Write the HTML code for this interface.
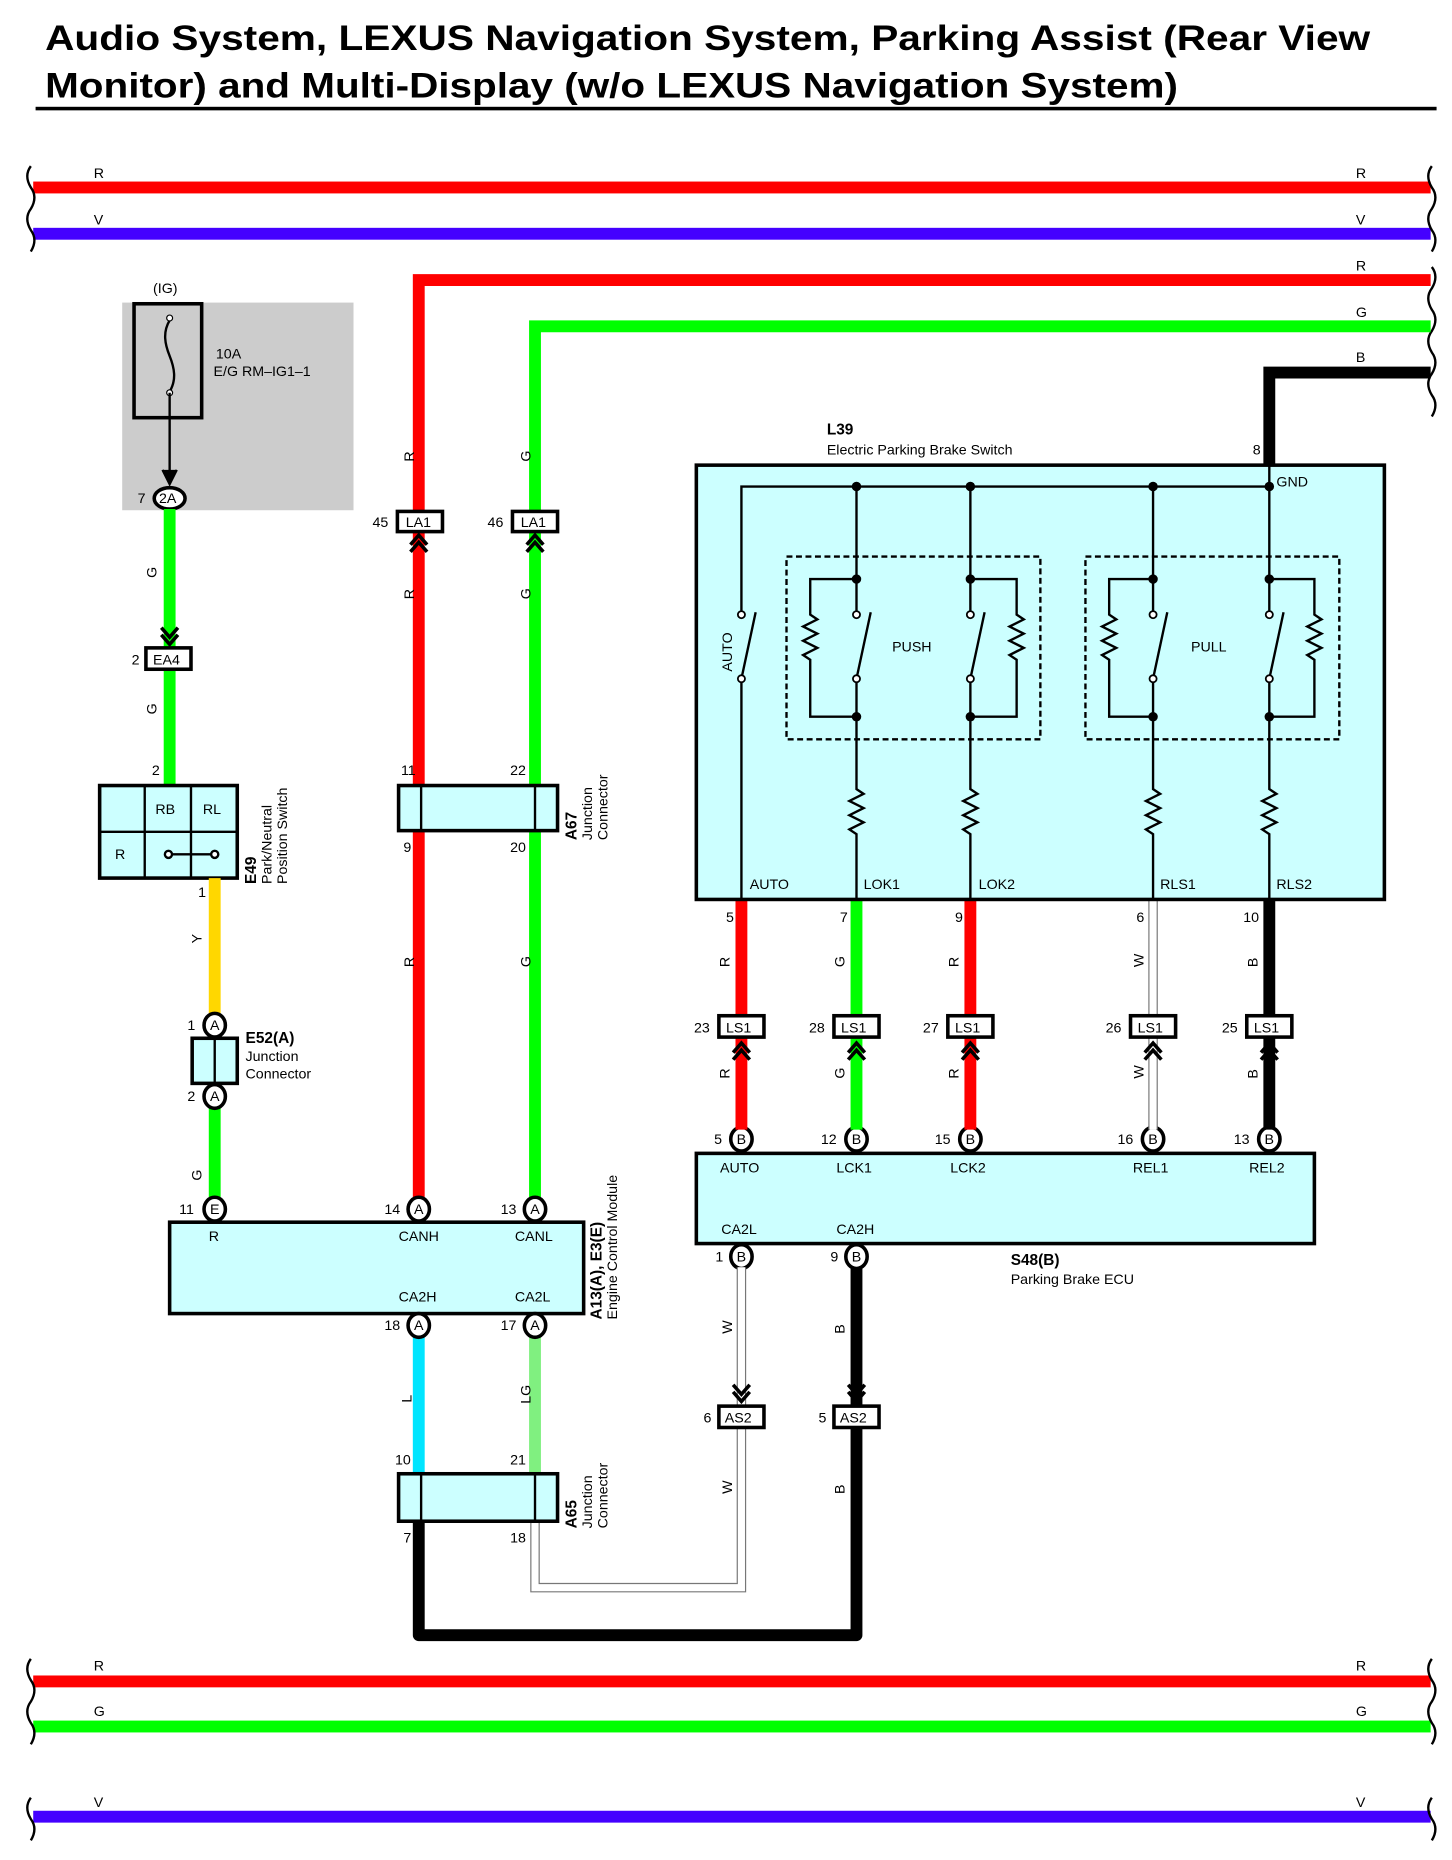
<!DOCTYPE html>
<html><head><meta charset="utf-8"><style>
html,body{margin:0;padding:0;background:#fff}
svg{display:block}
text{font-family:"Liberation Sans",sans-serif;font-size:12px;fill:#000}
.t{font-size:30px;font-weight:bold}
.b{font-weight:bold;font-size:13px}
</style></head><body>
<svg width="1452" height="1860" viewBox="0 0 1224 1567.5" preserveAspectRatio="none" xmlns="http://www.w3.org/2000/svg">
<defs>
<g id="cu"><path d="M-7,10 L0,2 L7,10 M-7,16 L0,8 L7,16" fill="none" stroke="#000" stroke-width="3"/></g>
<g id="cd"><path d="M-7,-10 L0,-2 L7,-10 M-7,-16 L0,-8 L7,-16" fill="none" stroke="#000" stroke-width="3"/></g>
<g id="br"><path d="M0,0 q-6,8 0,18 q6,8 0,18 q-6,8 0,18 q6,8 0,18" fill="none" stroke="#000" stroke-width="2"/></g>
</defs>
<!-- Title -->
<text class="t" x="38" y="42" textLength="1117" lengthAdjust="spacingAndGlyphs">Audio System, LEXUS Navigation System, Parking Assist (Rear View</text>
<text class="t" x="38" y="82" textLength="955" lengthAdjust="spacingAndGlyphs">Monitor) and Multi-Display (w/o LEXUS Navigation System)</text>
<rect x="30" y="90" width="1181" height="3" fill="#000"/>

<!-- top buses -->
<rect x="28" y="153" width="1178" height="10" fill="#f00"/>
<rect x="28" y="192" width="1178" height="10" fill="#40f"/>
<use href="#br" x="26" y="140"/><use href="#br" x="1207" y="140"/>
<text x="79" y="150">R</text><text x="1143" y="150">R</text>
<text x="79" y="189">V</text><text x="1143" y="189">V</text>
<text x="1143" y="228">R</text><text x="1143" y="267">G</text><text x="1143" y="305">B</text>
<path d="M1207,225 q6,8 0,18 q-6,8 0,18 q6,8 0,18 q-6,8 0,18 q6,8 0,18 q-6,8 0,18 q6,8 0,18" fill="none" stroke="#000" stroke-width="2"/>

<!-- long wires -->
<path d="M1206,236 H353 V1012" fill="none" stroke="#f00" stroke-width="10"/>
<path d="M1206,275 H451 V1012" fill="none" stroke="#0f0" stroke-width="10"/>
<path d="M1206,314 H1070 V392" fill="none" stroke="#000" stroke-width="10"/>
<rect x="336" y="662" width="134" height="38" fill="#ccffff" stroke="#000" stroke-width="3"/>
<line x1="355" y1="662" x2="355" y2="700" stroke="#000" stroke-width="2"/>
<line x1="451" y1="662" x2="451" y2="700" stroke="#000" stroke-width="2"/>
<text x="338" y="653">11</text><text x="430" y="653">22</text>
<text x="340" y="718">9</text><text x="430" y="718">20</text>
<g transform="translate(486,708) rotate(-90)"><text class="b">A67</text><text x="0" y="13">Junction</text><text x="0" y="26">Connector</text></g>
<text x="348" y="396" transform="rotate(-90 345 392)">R</text>
<text x="348" y="512" transform="rotate(-90 345 508)">R</text>
<text x="348" y="822" transform="rotate(-90 345 818)">R</text>
<text x="446" y="396" transform="rotate(-90 443 392)">G</text>
<text x="446" y="512" transform="rotate(-90 443 508)">G</text>
<text x="446" y="822" transform="rotate(-90 443 818)">G</text>
<rect x="335" y="431" width="38" height="17" fill="#fff" stroke="#000" stroke-width="3"/><text x="342" y="444">LA1</text><text x="314" y="444">45</text>
<rect x="432" y="431" width="38" height="17" fill="#fff" stroke="#000" stroke-width="3"/><text x="439" y="444">LA1</text><text x="411" y="444">46</text>
<use href="#cu" x="353" y="449"/><use href="#cu" x="451" y="449"/>

<!-- fuse -->
<rect x="103" y="255" width="195" height="175" fill="#ccc"/>
<rect x="113" y="256" width="57" height="96" fill="none" stroke="#000" stroke-width="3"/>
<path d="M143,270 c-6,10 -4,20 0,30 c4,10 6,20 0,30" fill="none" stroke="#000" stroke-width="2"/>
<circle cx="143" cy="268" r="2.5" fill="#fff" stroke="#000"/><circle cx="143" cy="331" r="2.5" fill="#fff" stroke="#000"/>
<line x1="143" y1="331" x2="143" y2="404" stroke="#000" stroke-width="2"/>
<path d="M137,396 L143,408 L149,396" fill="#000" stroke="#000" stroke-width="2"/>
<text x="129" y="247">(IG)</text>
<text x="182" y="302">10A</text><text x="180" y="317">E/G RM–IG1–1</text>
<ellipse cx="143" cy="420" rx="13" ry="9" fill="#fff" stroke="#000" stroke-width="3"/><text x="134" y="424" font-size="11">2A</text><text x="116" y="424">7</text>
<line x1="143" y1="429" x2="143" y2="662" stroke="#0f0" stroke-width="10"/>
<use href="#cd" x="143" y="545"/>
<rect x="123" y="546" width="38" height="18" fill="#fff" stroke="#000" stroke-width="3"/><text x="129" y="560">EA4</text><text x="111" y="560">2</text>
<text x="131" y="494" transform="rotate(-90 128 490)">G</text>
<text x="131" y="609" transform="rotate(-90 128 605)">G</text>
<text x="128" y="653">2</text>
<!-- E49 -->
<rect x="84" y="662" width="116" height="78" fill="#ccffff" stroke="#000" stroke-width="3"/>
<line x1="122" y1="662" x2="122" y2="740" stroke="#000" stroke-width="2"/>
<line x1="161" y1="662" x2="161" y2="740" stroke="#000" stroke-width="2"/>
<line x1="84" y1="701" x2="200" y2="701" stroke="#000" stroke-width="2"/>
<text x="131" y="686">RB</text><text x="171" y="686">RL</text><text x="97" y="724">R</text>
<line x1="142" y1="720" x2="181" y2="720" stroke="#000" stroke-width="2"/>
<circle cx="142" cy="720" r="3" fill="#fff" stroke="#000" stroke-width="2"/><circle cx="181" cy="720" r="3" fill="#fff" stroke="#000" stroke-width="2"/>
<g transform="translate(216,745) rotate(-90)"><text class="b">E49</text><text x="0" y="13">Park/Neutral</text><text x="0" y="26">Position Switch</text></g>
<line x1="181" y1="740" x2="181" y2="856" stroke="#ffd700" stroke-width="10"/>
<text x="167" y="756">1</text>
<text x="169" y="802" transform="rotate(-90 166 798)">Y</text>
<!-- E52 -->
<rect x="162" y="875" width="38" height="38" fill="#ccffff" stroke="#000" stroke-width="3"/>
<line x1="181" y1="875" x2="181" y2="913" stroke="#000" stroke-width="2"/>
<line x1="181" y1="932" x2="181" y2="1010" stroke="#0f0" stroke-width="10"/>
<text x="207" y="879" class="b">E52(A)</text><text x="207" y="894">Junction</text><text x="207" y="909">Connector</text>
<text x="169" y="1002" transform="rotate(-90 166 998)">G</text>

<!-- ECM -->
<rect x="143" y="1030" width="349" height="77" fill="#ccffff" stroke="#000" stroke-width="3"/>
<text x="176" y="1046">R</text><text x="336" y="1046">CANH</text><text x="434" y="1046">CANL</text>
<text x="336" y="1097">CA2H</text><text x="434" y="1097">CA2L</text>
<g transform="translate(507,1112) rotate(-90)"><text class="b">A13(A), E3(E)</text><text x="0" y="13">Engine Control Module</text></g>
<line x1="353" y1="1125" x2="353" y2="1242" stroke="#00e5ff" stroke-width="10"/>
<line x1="451" y1="1125" x2="451" y2="1242" stroke="#80f080" stroke-width="10"/>
<text x="345" y="1190" transform="rotate(-90 342 1185)">L</text>
<text x="442" y="1192" transform="rotate(-90 440 1185)">LG</text>
<!-- A65 -->
<path d="M353,1282 V1378 H722 V1200" fill="none" stroke="#000" stroke-width="10" stroke-linejoin="round"/>
<path d="M451,1282 V1338 H625 V1200" fill="none" stroke="#777" stroke-width="8"/>
<path d="M451,1282 V1338 H625 V1200" fill="none" stroke="#fff" stroke-width="6"/>
<rect x="336" y="1242" width="134" height="40" fill="#ccffff" stroke="#000" stroke-width="3"/>
<line x1="355" y1="1242" x2="355" y2="1282" stroke="#000" stroke-width="2"/>
<line x1="451" y1="1242" x2="451" y2="1282" stroke="#000" stroke-width="2"/>
<text x="333" y="1234">10</text><text x="430" y="1234">21</text>
<text x="340" y="1300">7</text><text x="430" y="1300">18</text>
<g transform="translate(486,1288) rotate(-90)"><text class="b">A65</text><text x="0" y="13">Junction</text><text x="0" y="26">Connector</text></g>

<!-- pins -->
<g fill="#fff" stroke="#000" stroke-width="3">
<ellipse cx="181" cy="864" rx="9" ry="10"/><ellipse cx="181" cy="924" rx="9" ry="10"/>
<ellipse cx="181" cy="1019" rx="9" ry="10"/><ellipse cx="353" cy="1019" rx="9" ry="10"/><ellipse cx="451" cy="1019" rx="9" ry="10"/>
<ellipse cx="353" cy="1117" rx="9" ry="10"/><ellipse cx="451" cy="1117" rx="9" ry="10"/>
<ellipse cx="625" cy="960" rx="9" ry="10"/><ellipse cx="722" cy="960" rx="9" ry="10"/><ellipse cx="818" cy="960" rx="9" ry="10"/><ellipse cx="972" cy="960" rx="9" ry="10"/><ellipse cx="1070" cy="960" rx="9" ry="10"/>
<ellipse cx="625" cy="1059" rx="9" ry="10"/><ellipse cx="722" cy="1059" rx="9" ry="10"/>
</g>
<g font-size="11">
<text x="177" y="868">A</text><text x="177" y="928">A</text><text x="177" y="1023">E</text><text x="349" y="1023">A</text><text x="447" y="1023">A</text><text x="349" y="1121">A</text><text x="447" y="1121">A</text>
<text x="621" y="964">B</text><text x="718" y="964">B</text><text x="814" y="964">B</text><text x="968" y="964">B</text><text x="1066" y="964">B</text>
<text x="621" y="1063">B</text><text x="718" y="1063">B</text>
</g>
<text x="158" y="868">1</text><text x="158" y="928">2</text><text x="151" y="1023">11</text><text x="324" y="1023">14</text><text x="422" y="1023">13</text><text x="324" y="1121">18</text><text x="422" y="1121">17</text>
<text x="602" y="964">5</text><text x="692" y="964">12</text><text x="788" y="964">15</text><text x="942" y="964">16</text><text x="1040" y="964">13</text>
<text x="603" y="1063">1</text><text x="700" y="1063">9</text>

<!-- L39 to ECU wires -->
<line x1="625" y1="758" x2="625" y2="952" stroke="#f00" stroke-width="10"/>
<line x1="722" y1="758" x2="722" y2="952" stroke="#0f0" stroke-width="10"/>
<line x1="818" y1="758" x2="818" y2="952" stroke="#f00" stroke-width="10"/>
<line x1="972" y1="758" x2="972" y2="952" stroke="#777" stroke-width="8"/>
<line x1="972" y1="758" x2="972" y2="952" stroke="#fff" stroke-width="6"/>
<line x1="1070" y1="758" x2="1070" y2="952" stroke="#000" stroke-width="10"/>
<line x1="625" y1="1068" x2="625" y2="1190" stroke="#777" stroke-width="8"/>
<line x1="625" y1="1068" x2="625" y2="1200" stroke="#fff" stroke-width="6"/>
<line x1="722" y1="1068" x2="722" y2="1190" stroke="#000" stroke-width="10"/>
<g fill="#fff" stroke="#000" stroke-width="3">
<rect x="606" y="856" width="38" height="18"/><rect x="703" y="856" width="38" height="18"/><rect x="799" y="856" width="38" height="18"/><rect x="953" y="856" width="38" height="18"/><rect x="1051" y="856" width="38" height="18"/>
<rect x="606" y="1185" width="38" height="18"/><rect x="703" y="1185" width="38" height="18"/>
</g>
<text x="612" y="870">LS1</text><text x="709" y="870">LS1</text><text x="805" y="870">LS1</text><text x="959" y="870">LS1</text><text x="1057" y="870">LS1</text>
<text x="585" y="870">23</text><text x="682" y="870">28</text><text x="778" y="870">27</text><text x="932" y="870">26</text><text x="1030" y="870">25</text>
<text x="611" y="1199">AS2</text><text x="708" y="1199">AS2</text><text x="593" y="1199">6</text><text x="690" y="1199">5</text>
<use href="#cu" x="625" y="877"/><use href="#cu" x="722" y="877"/><use href="#cu" x="818" y="877"/><use href="#cu" x="972" y="877"/><use href="#cu" x="1070" y="877"/>
<use href="#cd" x="625" y="1183"/><use href="#cd" x="722" y="1183"/>
<text x="612" y="777">5</text><text x="708" y="777">7</text><text x="805" y="777">9</text><text x="958" y="777">6</text><text x="1048" y="777">10</text>
<g>
<text x="614" y="822" transform="rotate(-90 611 818)">R</text><text x="711" y="822" transform="rotate(-90 708 818)">G</text><text x="807" y="822" transform="rotate(-90 804 818)">R</text><text x="963" y="822" transform="rotate(-90 960 818)">W</text><text x="1059" y="822" transform="rotate(-90 1056 818)">B</text>
<text x="614" y="916" transform="rotate(-90 611 912)">R</text><text x="711" y="916" transform="rotate(-90 708 912)">G</text><text x="807" y="916" transform="rotate(-90 804 912)">R</text><text x="963" y="916" transform="rotate(-90 960 912)">W</text><text x="1059" y="916" transform="rotate(-90 1056 912)">B</text>
<text x="616" y="1131" transform="rotate(-90 613 1127)">W</text><text x="711" y="1131" transform="rotate(-90 708 1127)">B</text>
<text x="616" y="1266" transform="rotate(-90 613 1262)">W</text><text x="711" y="1266" transform="rotate(-90 708 1262)">B</text>
</g>

<!-- S48 -->
<rect x="587" y="972" width="521" height="76" fill="#ccffff" stroke="#000" stroke-width="3"/>
<text x="607" y="988">AUTO</text><text x="705" y="988">LCK1</text><text x="801" y="988">LCK2</text><text x="955" y="988">REL1</text><text x="1053" y="988">REL2</text>
<text x="608" y="1040">CA2L</text><text x="705" y="1040">CA2H</text>
<text x="852" y="1066" class="b">S48(B)</text><text x="852" y="1082">Parking Brake ECU</text>

<!-- L39 -->
<text x="697" y="366" class="b">L39</text><text x="697" y="383">Electric Parking Brake Switch</text>
<text x="1056" y="383">8</text>
<rect x="587" y="392" width="580" height="366" fill="#ccffff" stroke="#000" stroke-width="3"/>
<text x="1076" y="410">GND</text>
<g fill="none" stroke="#000" stroke-width="2">
<path d="M625,758 V572 M625,518 V410 H1070 V392"/>
<path d="M625,572 L637,516"/>
<rect x="663" y="469" width="214" height="154" stroke-dasharray="5,3"/>
<rect x="915" y="469" width="214" height="154" stroke-dasharray="5,3"/>
<path d="M722,410 V518 M722,572 V665 l6,4 -12,6 12,6 -12,6 12,6 -12,6 6,4 V758"/>
<path d="M722,572 L734,516"/>
<path d="M722,488 H683 V518 l6,4 -12,6 12,6 -12,6 12,6 -12,6 6,4 V604 H722"/>
<path d="M818,410 V518 M818,572 V665 l6,4 -12,6 12,6 -12,6 12,6 -12,6 6,4 V758"/>
<path d="M818,572 L830,516"/>
<path d="M818,488 H857 V518 l6,4 -12,6 12,6 -12,6 12,6 -12,6 6,4 V604 H818"/>
<path d="M972,410 V518 M972,572 V665 l6,4 -12,6 12,6 -12,6 12,6 -12,6 6,4 V758"/>
<path d="M972,572 L984,516"/>
<path d="M972,488 H935 V518 l6,4 -12,6 12,6 -12,6 12,6 -12,6 6,4 V604 H972"/>
<path d="M1070,410 V518 M1070,572 V665 l6,4 -12,6 12,6 -12,6 12,6 -12,6 6,4 V758"/>
<path d="M1070,572 L1082,516"/>
<path d="M1070,488 H1108 V518 l6,4 -12,6 12,6 -12,6 12,6 -12,6 6,4 V604 H1070"/>
</g>
<g fill="#000"><circle cx="722" cy="410" r="4"/><circle cx="818" cy="410" r="4"/><circle cx="972" cy="410" r="4"/><circle cx="1070" cy="410" r="4"/>
<circle cx="722" cy="488" r="4"/><circle cx="818" cy="488" r="4"/><circle cx="972" cy="488" r="4"/><circle cx="1070" cy="488" r="4"/>
<circle cx="722" cy="604" r="4"/><circle cx="818" cy="604" r="4"/><circle cx="972" cy="604" r="4"/><circle cx="1070" cy="604" r="4"/></g>
<g fill="#fff" stroke="#000" stroke-width="1.5"><circle cx="625" cy="518" r="3"/><circle cx="625" cy="572" r="3"/><circle cx="722" cy="518" r="3"/><circle cx="722" cy="572" r="3"/><circle cx="818" cy="518" r="3"/><circle cx="818" cy="572" r="3"/><circle cx="972" cy="518" r="3"/><circle cx="972" cy="572" r="3"/><circle cx="1070" cy="518" r="3"/><circle cx="1070" cy="572" r="3"/></g>
<text x="752" y="549">PUSH</text><text x="1004" y="549">PULL</text>
<text transform="translate(617,566) rotate(-90)">AUTO</text>
<text x="632" y="749">AUTO</text><text x="728" y="749">LOK1</text><text x="825" y="749">LOK2</text><text x="978" y="749">RLS1</text><text x="1076" y="749">RLS2</text>

<!-- bottom buses -->
<rect x="28" y="1412" width="1178" height="10" fill="#f00"/>
<rect x="28" y="1450" width="1178" height="10" fill="#0f0"/>
<rect x="28" y="1526" width="1178" height="10" fill="#40f"/>
<use href="#br" x="26" y="1398"/><use href="#br" x="1207" y="1398"/>
<path d="M26,1515 q-6,8 0,18 q6,8 0,18" fill="none" stroke="#000" stroke-width="2"/>
<path d="M1207,1515 q-6,8 0,18 q6,8 0,18" fill="none" stroke="#000" stroke-width="2"/>
<text x="79" y="1408">R</text><text x="1143" y="1408">R</text>
<text x="79" y="1446">G</text><text x="1143" y="1446">G</text>
<text x="79" y="1523">V</text><text x="1143" y="1523">V</text>
</svg>
</body></html>
